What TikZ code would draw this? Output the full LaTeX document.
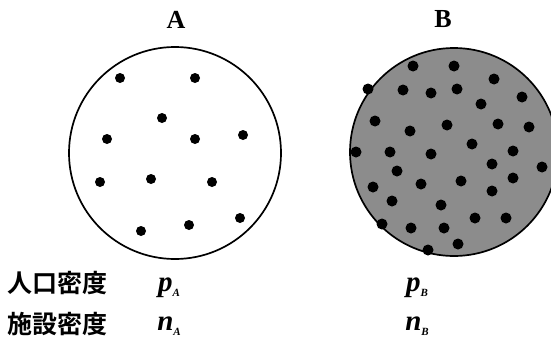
\documentclass[tikz,border=0pt]{standalone}
\usepackage{fontspec}
\newfontfamily\jpfont{Noto Sans CJK JP}[BoldFont={Noto Sans CJK JP Bold}]
\newfontfamily\serfont{Liberation Serif}
\usepackage{tikz}
\usetikzlibrary{calc}

% density symbol with a small italic subscript
\newcommand{\densym}[2]{{\serfont\bfseries\itshape #1\raisebox{-0.4ex}{\fontsize{11}{12}\selectfont #2}}}

\tikzset{
  region/.style={line width=1.7pt},
  facility/.style={fill=black},
  regiontitle/.style={font=\serfont\bfseries\fontsize{26}{28}\selectfont},
  rowlabel/.style={font=\jpfont\bfseries\fontsize{25}{27}\selectfont, anchor=west},
  denslabel/.style={font=\fontsize{29}{30}\selectfont, anchor=base}
}

\begin{document}
\begin{tikzpicture}[x=1pt, y=-1pt]
  \useasboundingbox (0,0) rectangle (551,340);

  % Centres of the two regions
  \coordinate (cA) at (175,153);
  \coordinate (cB) at (454,152);

  % Region A: sparse population
  \draw[region, fill=white] (cA) circle (106);
  % Region B: dense population (shaded)
  \draw[region, fill=black!45] (cB) circle (104);

  % Titles
  \node[regiontitle] (tA) at (176,20) {A};
  \node[regiontitle] (tB) at (443,19) {B};

  % Facilities in A
  \foreach \x/\y in {120/78, 195/78, 162/118, 107/139, 195/139, 243/135,
                     100/182, 151/179, 212/182, 240/218, 189/225, 141/231}
    \fill[facility] (\x,\y) circle (5);

  % Facilities in B
  \foreach \x/\y in {413/66, 454/66, 494/79, 368/89, 403/90, 431/93, 457/89,
                     522/97, 481/104, 375/121, 447/125, 498/124, 529/127,
                     410/131, 356/152, 390/152, 431/154, 472/144, 513/151,
                     492/164, 542/167, 397/171, 513/178, 373/187, 421/184,
                     461/181, 492/191, 392/201, 441/205, 382/224, 411/228,
                     444/228, 475/218, 506/218, 428/250, 458/244}
    \fill[facility] (\x,\y) circle (5.5);

  % Density labels
  \node[rowlabel] (pop) at (4,283) {人口密度};
  \node[rowlabel] (fac) at (4,324) {施設密度};
  \node[denslabel] (pA) at (169,291) {\densym{p}{A}};
  \node[denslabel] (nA) at (169,330) {\densym{n}{A}};
  \node[denslabel] (pB) at (417,291) {\densym{p}{B}};
  \node[denslabel] (nB) at (417,330) {\densym{n}{B}};
\end{tikzpicture}
\end{document}
